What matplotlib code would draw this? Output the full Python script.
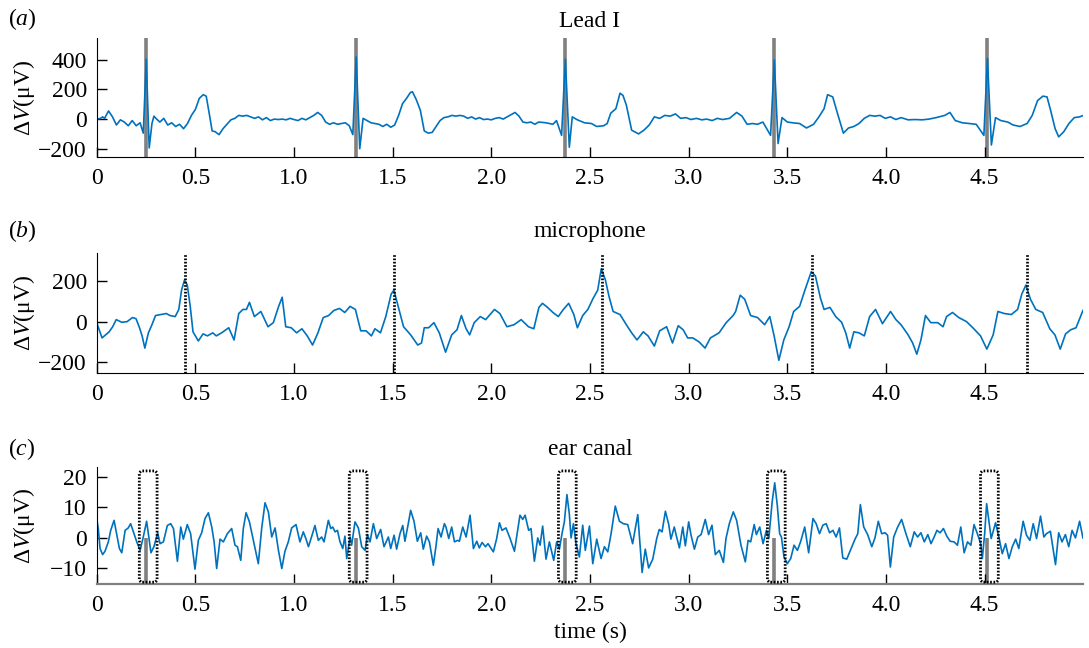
import matplotlib
matplotlib.use('Agg')
import matplotlib.pyplot as plt
from matplotlib.patches import FancyBboxPatch

plt.rcParams['font.family'] = ['Liberation Serif', 'DejaVu Serif']
plt.rcParams['mathtext.fontset'] = 'custom'
plt.rcParams['mathtext.rm'] = 'Liberation Serif'
plt.rcParams['mathtext.it'] = 'Liberation Serif:italic'
plt.rcParams['font.size'] = 17

# (a) Lead I  -- time (s), voltage (uV)
lead_t = [0.00, 0.02, 0.03, 0.04, 0.06, 0.08, 0.10, 0.12, 0.14, 0.16, 0.18, 0.20, 0.22, 0.236, 0.251, 0.266,
          0.28, 0.29, 0.30, 0.32, 0.34, 0.36, 0.38, 0.40, 0.42, 0.44, 0.46, 0.48, 0.50, 0.52, 0.54, 0.555,
          0.57, 0.585, 0.60, 0.62, 0.64, 0.66, 0.68, 0.70, 0.72, 0.74, 0.76, 0.78, 0.80, 0.82, 0.84, 0.86,
          0.88, 0.90, 0.92, 0.94, 0.96, 0.98, 1.00, 1.02, 1.04, 1.06, 1.08, 1.10, 1.12, 1.14, 1.16, 1.18,
          1.20, 1.22, 1.24, 1.26, 1.28, 1.298, 1.315, 1.333, 1.35, 1.37, 1.39, 1.41, 1.43, 1.45, 1.47, 1.49,
          1.51, 1.53, 1.55, 1.57, 1.59, 1.60, 1.62, 1.64, 1.66, 1.68, 1.70, 1.72, 1.74, 1.76, 1.78, 1.80,
          1.82, 1.84, 1.86, 1.88, 1.90, 1.92, 1.94, 1.96, 1.98, 2.00, 2.02, 2.04, 2.06, 2.08, 2.10, 2.12,
          2.14, 2.16, 2.18, 2.20, 2.22, 2.24, 2.277, 2.312, 2.33, 2.356, 2.375, 2.395, 2.41, 2.436, 2.472,
          2.507, 2.534, 2.569, 2.587, 2.605, 2.631, 2.652, 2.667, 2.684, 2.711, 2.746, 2.773, 2.80, 2.826,
          2.853, 2.879, 2.906, 2.933, 2.959, 2.986, 3.012, 3.039, 3.066, 3.092, 3.119, 3.145, 3.172, 3.207,
          3.243, 3.27, 3.296, 3.323, 3.349, 3.376, 3.415, 3.434, 3.453, 3.473, 3.50, 3.527, 3.562, 3.597,
          3.633, 3.66, 3.686, 3.704, 3.73, 3.757, 3.784, 3.81, 3.837, 3.863, 3.89, 3.917, 3.943, 3.97,
          3.996, 4.023, 4.05, 4.076, 4.112, 4.147, 4.183, 4.218, 4.254, 4.298, 4.324, 4.351, 4.387, 4.422,
          4.457, 4.496, 4.514, 4.534, 4.555, 4.582, 4.617, 4.644, 4.679, 4.715, 4.741, 4.768, 4.795, 4.816,
          4.834, 4.857, 4.875, 4.901, 4.927, 4.954, 4.981, 5.00]
lead_v = [0, 5, 15, 5, 55, 15, -40, -5, -20, -45, -10, -45, -25, -95, 405, -195,
          -30, 20, 5, -20, 5, -40, -25, -50, -35, -65, -30, 25, 65, 140, 165, 155,
          40, -80, -85, -105, -65, -35, -5, 5, 25, 20, 25, 15, 5, 15, -5, 10,
          -10, 0, -3, 0, -5, 5, -3, -10, 5, -5, 10, 25, 45, 25, -20, -35,
          -25, -35, -30, -25, -45, -105, 420, -200, 5, -10, -25, -30, -35, -50, -35, -55,
          -40, 25, 105, 140, 180, 185, 130, 60, -80, -95, -90, -50, -10, 10, 15, 25,
          20, 25, 20, 5, 15, 0, 10, -3, 0, -5, 5, 10, 0, 15, 30, 45,
          20, -20, -25, -20, -35, -20, -25, -35, -10, -110, 405, -190, 15, -5, -25,
          -30, -50, -45, -30, 40, 70, 175, 160, 95, -75, -100, -75, -40, 15,
          5, 25, 20, 35, 5, 10, -3, 5, -5, 0, -10, 5, -3, 5,
          45, 20, -35, -30, -35, -20, -110, 400, -165, 10, -20, -25, -30, -60,
          -35, 15, 70, 165, 150, 25, -95, -60, -50, -30, 5, 25, 20, 25,
          5, 15, -3, 10, -5, -3, -5, 0, 10, 25, 45, -10, -25, -30,
          -35, -110, 410, -175, 10, -10, -20, -40, -50, -30, 25, 125, 155, 150,
          60, -65, -120, -85, -30, 10, 15, 25]

# (b) microphone
mic_t = [0.000, 0.027, 0.045, 0.063, 0.081, 0.099, 0.127, 0.154, 0.181, 0.199, 0.217, 0.230, 0.244, 0.262,
         0.280, 0.298, 0.326, 0.353, 0.371, 0.398, 0.416, 0.430, 0.445, 0.459, 0.474, 0.488, 0.515, 0.539,
         0.561, 0.588, 0.606, 0.633, 0.669, 0.696, 0.720, 0.741, 0.759, 0.774, 0.799, 0.832, 0.868, 0.895,
         0.922, 0.940, 0.958, 0.986, 1.013, 1.040, 1.067, 1.094, 1.121, 1.148, 1.175, 1.202, 1.230, 1.257,
         1.284, 1.311, 1.338, 1.365, 1.392, 1.410, 1.438, 1.465, 1.492, 1.506, 1.528, 1.555, 1.591, 1.627,
         1.646, 1.660, 1.682, 1.709, 1.736, 1.768, 1.799, 1.826, 1.848, 1.872, 1.890, 1.913, 1.944, 1.971,
         1.998, 2.016, 2.043, 2.079, 2.115, 2.151, 2.188, 2.215, 2.241, 2.259, 2.285, 2.312, 2.339, 2.365,
         2.392, 2.418, 2.436, 2.463, 2.489, 2.516, 2.539, 2.557, 2.578, 2.596, 2.617, 2.652, 2.684, 2.711,
         2.738, 2.770, 2.794, 2.826, 2.853, 2.888, 2.918, 2.947, 2.972, 2.995, 3.021, 3.053, 3.083, 3.110,
         3.154, 3.190, 3.225, 3.238, 3.261, 3.284, 3.314, 3.349, 3.385, 3.411, 3.433, 3.457, 3.482, 3.509,
         3.532, 3.562, 3.589, 3.621, 3.642, 3.668, 3.686, 3.716, 3.745, 3.775, 3.796, 3.816, 3.837, 3.863,
         3.890, 3.917, 3.947, 3.982, 4.023, 4.050, 4.076, 4.112, 4.135, 4.156, 4.177, 4.200, 4.227, 4.262,
         4.289, 4.307, 4.337, 4.369, 4.408, 4.440, 4.479, 4.511, 4.543, 4.567, 4.599, 4.635, 4.667, 4.688,
         4.709, 4.732, 4.759, 4.794, 4.830, 4.856, 4.883, 4.910, 4.936, 4.963, 4.998]
mic_v = [-5, -80, -65, -50, -25, 10, -3, 0, 20, 15, -30, -70, -130, -55,
         -15, 30, 35, 40, 30, 25, 60, 155, 205, 180, 75, -50, -95, -60,
         -70, -55, -70, -55, -30, -90, 40, 60, 60, 95, 25, 50, -25, -5,
         75, 120, -25, -30, -55, -35, -70, -115, -55, 20, 30, 55, 65, 45,
         75, 60, -45, -45, -70, -35, -55, 25, 135, 155, 75, -25, -65, -115,
         -105, -30, -30, -5, -55, -150, -65, -40, 30, -35, -65, -5, 25, 10,
         40, 60, 40, -25, -15, 10, -25, -35, 70, 90, 70, 45, 25, 60,
         90, 35, -30, 30, 60, 115, 155, 260, 205, 125, 50, 35, -15, -55,
         -90, -50, -70, -120, -45, -25, -105, -20, -40, -80, -80, -100, -130, -80,
         -55, -5, 30, 50, 130, 110, 30, 20, -15, 25, -70, -190, -90, -25,
         50, 75, 155, 245, 225, 115, 60, 70, 25, -3, -55, -130, -50, -55,
         -70, 25, 60, -10, 50, 10, -15, -65, -105, -160, -90, 30, -5, -5,
         -25, 25, 45, 20, 0, -30, -70, -135, -65, 50, 40, 35, 60, 135,
         180, 110, 60, 45, -35, -65, -135, -60, -40, -30, 55]

# (c) ear canal
ear_t = [0.000, 0.008, 0.017, 0.030, 0.042, 0.059, 0.071, 0.088, 0.101, 0.115, 0.127, 0.144, 0.160, 0.172,
         0.186, 0.203, 0.220, 0.236, 0.253, 0.267, 0.275, 0.290, 0.309, 0.321, 0.338, 0.358, 0.375, 0.389,
         0.409, 0.426, 0.439, 0.459, 0.476, 0.498, 0.515, 0.532, 0.549, 0.566, 0.583, 0.595, 0.608, 0.625,
         0.642, 0.662, 0.684, 0.701, 0.713, 0.730, 0.743, 0.757, 0.774, 0.794, 0.819, 0.836, 0.853, 0.870,
         0.887, 0.904, 0.921, 0.938, 0.954, 0.971, 0.988, 1.010, 1.030, 1.047, 1.061, 1.073, 1.090, 1.106,
         1.123, 1.140, 1.152, 1.174, 1.186, 1.196, 1.208, 1.220, 1.233, 1.247, 1.258, 1.267, 1.284, 1.292,
         1.309, 1.326, 1.343, 1.360, 1.372, 1.385, 1.402, 1.419, 1.439, 1.456, 1.478, 1.490, 1.507, 1.520,
         1.537, 1.551, 1.562, 1.579, 1.591, 1.608, 1.625, 1.642, 1.655, 1.672, 1.686, 1.706, 1.720, 1.730,
         1.745, 1.762, 1.770, 1.784, 1.799, 1.813, 1.829, 1.838, 1.855, 1.872, 1.892, 1.909, 1.926, 1.939,
         1.953, 1.970, 1.983, 2.010, 2.027, 2.041, 2.054, 2.074, 2.095, 2.117, 2.133, 2.145, 2.159, 2.171,
         2.189, 2.201, 2.218, 2.235, 2.247, 2.260, 2.277, 2.294, 2.316, 2.331, 2.345, 2.358, 2.370, 2.383,
         2.395, 2.404, 2.416, 2.429, 2.446, 2.463, 2.476, 2.497, 2.514, 2.534, 2.556, 2.573, 2.590, 2.606,
         2.628, 2.649, 2.669, 2.691, 2.716, 2.742, 2.764, 2.780, 2.797, 2.818, 2.838, 2.851, 2.865, 2.882,
         2.899, 2.910, 2.927, 2.939, 2.953, 2.970, 2.983, 3.000, 3.012, 3.029, 3.046, 3.063, 3.084, 3.101,
         3.118, 3.135, 3.155, 3.176, 3.189, 3.206, 3.226, 3.243, 3.265, 3.287, 3.301, 3.314, 3.332, 3.343,
         3.360, 3.377, 3.394, 3.406, 3.423, 3.436, 3.449, 3.461, 3.470, 3.483, 3.500, 3.517, 3.534, 3.551,
         3.567, 3.588, 3.608, 3.630, 3.646, 3.663, 3.680, 3.697, 3.714, 3.731, 3.747, 3.764, 3.781, 3.801,
         3.823, 3.843, 3.857, 3.870, 3.887, 3.907, 3.928, 3.944, 3.961, 3.978, 3.995, 4.008, 4.022, 4.039,
         4.059, 4.079, 4.101, 4.123, 4.143, 4.160, 4.177, 4.194, 4.212, 4.228, 4.244, 4.258, 4.274, 4.291,
         4.308, 4.325, 4.345, 4.362, 4.379, 4.396, 4.413, 4.430, 4.446, 4.463, 4.480, 4.488, 4.500, 4.510,
         4.522, 4.533, 4.555, 4.572, 4.589, 4.606, 4.623, 4.640, 4.657, 4.673, 4.695, 4.712, 4.729, 4.746,
         4.763, 4.783, 4.800, 4.813, 4.833, 4.859, 4.875, 4.892, 4.909, 4.926, 4.943, 4.960, 4.981, 4.998]
ear_v = [6.3, 3.0, -3.6, -5.6, -4.5, -1.4, 2.4, 5.7, 1.3, -3.6, -5.0, 2.4, 3.2, 4.6,
         1.9, -1.4, -4.2, 0.2, 5.4, -1.2, -5.0, -3.0, 1.6, -2.0, -1.4, 4.0, 4.6, 3.0,
         -7.8, 3.5, -0.5, 4.3, 1.3, -10.4, -0.9, 1.6, 6.3, 8.2, 3.5, -1.4, -10.2, -0.5,
         -1.4, 1.3, 3.0, -2.5, -3.0, -7.5, 3.0, 8.2, 5.2, -0.9, -8.6, 3.0, 11.5, 8.5,
         0.2, 3.2, -4.2, -10.2, -4.5, -1.4, 3.2, 4.3, -1.4, 1.9, -0.5, -3.0, 0.5, 4.0,
         -0.9, 0.2, -1.4, 5.7, 3.0, 3.5, 1.9, 2.4, -1.4, -3.6, 0.5, -6.9, 0.2, -2.5,
         5.2, 3.2, -3.0, -4.2, 1.0, -1.4, 4.6, -0.3, 2.7, -3.0, 0.2, -3.6, 0.8, -3.8,
         1.3, 4.0, -1.2, 4.6, 9.0, 5.4, -1.2, 1.6, -3.8, 0.5, -1.4, -9.1, -2.5, 3.0,
         0.2, 4.6, 3.5, -0.3, 3.5, -1.4, -0.9, -1.2, 3.5, 0.2, 7.4, -3.6, -1.2, -3.4,
         -1.6, -3.0, -2.0, -4.7, -0.3, 4.9, 2.4, 3.2, -0.3, -4.5, 2.4, 7.4, 6.0, 7.4,
         2.4, 3.0, -7.8, -0.1, -2.5, 3.8, -7.1, -1.4, -7.5, -1.4, -3.8, 1.3, 5.2, 14.2,
         7.9, -0.1, 4.6, -2.0, -6.4, 4.1, -4.2, 3.8, -8.6, -0.5, -6.9, -3.0, -4.7, 1.0,
         10.4, 5.4, 4.6, 4.3, -2.0, 7.6, -11.5, -3.8, -10.0, -7.1, -0.3, 2.7, 1.9, 8.7,
         4.3, -0.5, 3.5, 0.2, -3.4, 3.5, -2.7, 5.2, 0.8, -3.8, 0.2, 1.0, 6.0, 1.0,
         4.1, -5.6, -4.2, -8.2, -0.3, 4.6, 8.5, 5.7, -2.5, -8.0, -0.9, -1.4, 4.3, 1.0,
         3.5, -2.0, 2.4, -0.3, 11.8, 18.1, 10.7, 1.3, 0.2, -6.4, -8.6, -6.9, -2.5, -4.2,
         -1.4, 3.5, -5.0, 6.3, 4.6, 1.3, 4.1, 4.6, 1.6, 2.4, 0.2, 3.2, -6.7, -7.1,
         -3.6, -0.5, 1.3, 10.9, 3.5, 1.0, -3.0, -0.1, 5.4, 1.3, 1.6, 0.8, -9.7, 0.2,
         3.5, 6.0, 1.3, -3.0, 1.9, 0.2, 1.6, -1.4, 1.0, -2.0, 0.2, 2.4, 1.6, 3.0,
         0.5, -1.2, -1.4, -2.5, 3.5, -5.0, -1.4, -2.5, 4.3, 1.3, -2.0, -6.9, 1.3, 11.2,
         5.2, -0.3, 4.9, 0.2, -5.3, -2.0, -6.9, -3.0, -0.5, -3.6, 5.4, 0.8, -0.9, 4.6,
         -0.3, 7.1, 0.2, 1.3, 2.1, -8.9, 1.6, -1.4, 1.0, -3.0, 2.4, -0.1, 5.4, -0.1]

# event markers
r_peaks = [0.251, 1.315, 2.375, 3.434, 4.514]
sound_peaks = [0.445, 1.505, 2.561, 3.625, 4.715]

xticks = [0, 0.5, 1.0, 1.5, 2.0, 2.5, 3.0, 3.5, 4.0, 4.5]
xtick_labels = ['0', '0.5', '1.0', '1.5', '2.0', '2.5', '3.0', '3.5', '4.0', '4.5']

blue = '#0072BD'
grey = '#808080'

fig = plt.figure(figsize=(10.89, 6.48), dpi=100)
left, width = 0.0888, 0.9060
xc = left + width / 2

ax_a = fig.add_axes([left, 0.7573, width, 0.1836])
ax_b = fig.add_axes([left, 0.4239, width, 0.1852])
ax_c = fig.add_axes([left, 0.0983, width, 0.1815])


def style(ax, yticks, ylim):
    ax.spines['top'].set_visible(False)
    ax.spines['right'].set_visible(False)
    ax.set_xlim(0, 5.0)
    ax.set_ylim(ylim)
    ax.set_xticks(xticks, xtick_labels)
    ax.set_yticks(yticks)
    ax.tick_params(direction='in', length=7, width=1, labelsize=17)
    ax.tick_params(axis='x', pad=8)
    ax.tick_params(axis='y', pad=7)


# (a)
style(ax_a, [-200, 0, 200, 400], (-258, 546))
for r in r_peaks:
    ax_a.axvline(r, color=grey, lw=2.6, zorder=1)
ax_a.plot(lead_t, lead_v, color=blue, lw=1.2, zorder=2)

# (b)
style(ax_b, [-200, 0, 200], (-254, 336))
for s in sound_peaks:
    ax_b.axvline(s, color='k', lw=2.0, linestyle=(0, (0.6, 0.6)), zorder=3)
ax_b.plot(mic_t, mic_v, color=blue, lw=1.2, zorder=2)

# (c)
ylim_c = (-15.4, 23.4)
style(ax_c, [-10, 0, 10, 20], ylim_c)
ax_c.spines['bottom'].set_color(grey)
ax_c.spines['bottom'].set_linewidth(1.6)
ax_c.vlines(r_peaks, ylim_c[0], 0, colors=grey, lw=2.6, zorder=1)
for r in r_peaks:
    box = FancyBboxPatch((r - 0.035, -14.7), 0.09, 36.7,
                         boxstyle='round,pad=0,rounding_size=0.015', mutation_aspect=65,
                         fill=False, ec='k', lw=2.0, linestyle=(0, (0.6, 0.6)), zorder=3)
    ax_c.add_patch(box)
ax_c.plot(ear_t, ear_v, color=blue, lw=1.2, zorder=2)

# titles, panel letters, axis labels
fig.text(xc, 0.958, 'Lead I', ha='center', va='baseline')
fig.text(xc, 0.634, 'microphone', ha='center', va='baseline')
fig.text(xc, 0.298, 'ear canal', ha='center', va='baseline')
fig.text(0.007, 0.961, '($a$)', ha='left', va='baseline')
fig.text(0.007, 0.634, '($b$)', ha='left', va='baseline')
fig.text(0.007, 0.298, '($c$)', ha='left', va='baseline')
for ax in (ax_a, ax_b, ax_c):
    pos = ax.get_position()
    fig.text(0.022, pos.y0 + pos.height / 2, 'Δ$V$(μV)', rotation=90, ha='center', va='center')
fig.text(xc, 0.0154, 'time (s)', ha='center', va='baseline')

fig.savefig('out.png', dpi=100)
